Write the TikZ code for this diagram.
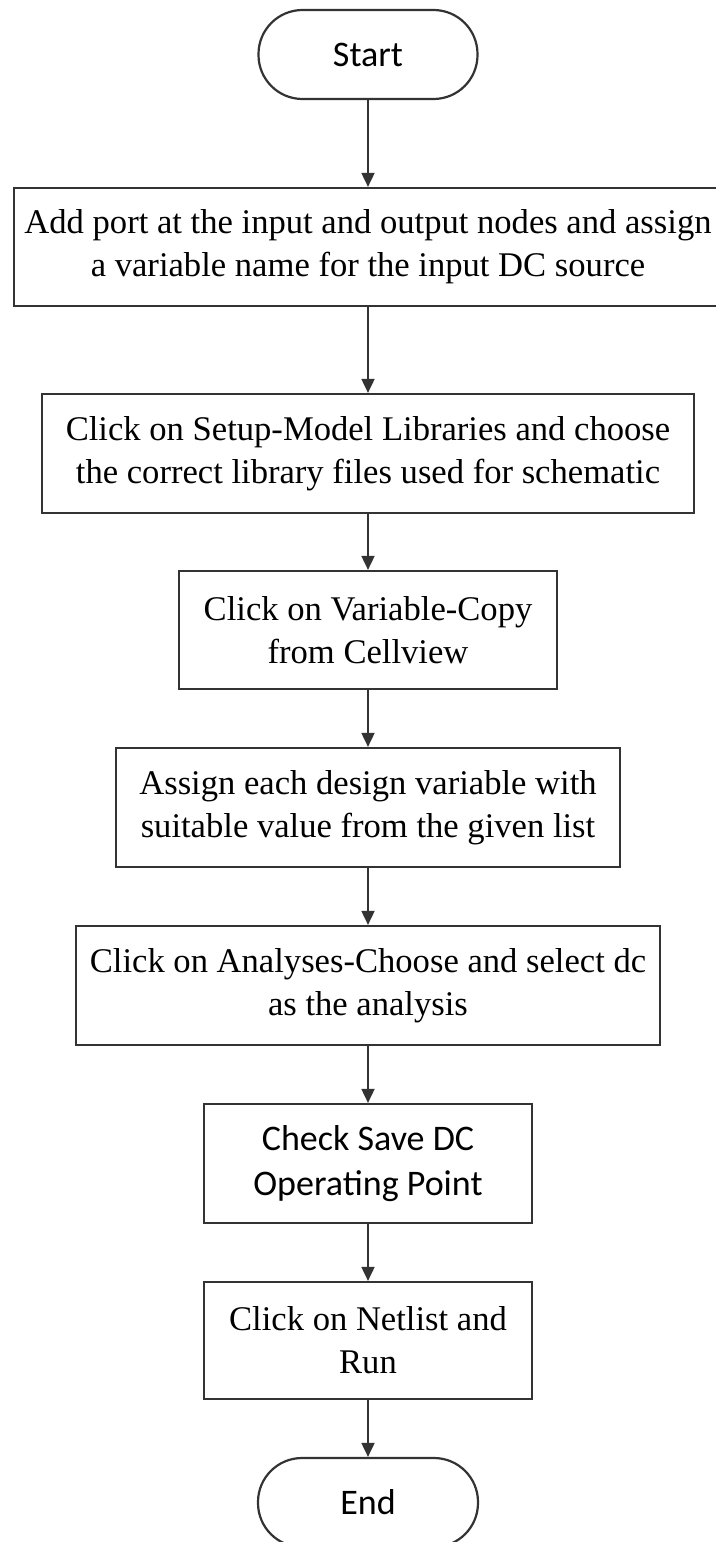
\documentclass[tikz,border=0pt]{standalone}
\usepackage{fontspec}
\setmainfont{Liberation Serif}
\newfontfamily\calfont{Carlito}
\usetikzlibrary{arrows.meta}
\begin{document}
\begin{tikzpicture}[x=0.5pt,y=-0.5pt,
  box/.style={draw=black!80, line width=1.1pt, fill=white, align=center, inner sep=0pt,
    font=\fontsize{17.3pt}{21.5pt}\selectfont},
  term/.style={box, rounded corners=22pt, font=\calfont\fontsize{18pt}{22pt}\selectfont},
  flow/.style={draw=black!80, line width=0.9pt, -{Triangle[width=6.5pt,length=7pt]}}]
\useasboundingbox (0,0) rectangle (716,1542);
\node[term, minimum width=109.5pt, minimum height=44.5pt] (start) at (368,54.5) {Start};
\node[box, minimum width=354pt, minimum height=59pt] (b1) at (368,247)
  {Add port at the input and output nodes and assign\\a variable name for the input DC source};
\node[box, minimum width=326pt, minimum height=59.5pt] (b2) at (368,453.5)
  {Click on Setup-Model Libraries and choose\\the correct library files used for schematic};
\node[box, minimum width=189pt, minimum height=59pt] (b3) at (368,630)
  {Click on Variable-Copy\\from Cellview};
\node[box, minimum width=252pt, minimum height=59.5pt] (b4) at (368,807.5)
  {Assign each design variable with\\suitable value from the given list};
\node[box, minimum width=292pt, minimum height=59.5pt] (b5) at (368,985.5)
  {Click on Analyses-Choose and select dc\\as the analysis};
\node[box, minimum width=164pt, minimum height=59.5pt, font=\calfont\fontsize{18pt}{22.5pt}\selectfont] (b6) at (368,1163.5)
  {Check Save DC\\Operating Point};
\node[box, minimum width=164pt, minimum height=58.5pt] (b7) at (368,1340.5)
  {Click on Netlist and\\Run};
\node[term, minimum width=110pt, minimum height=44.5pt] (end) at (368,1502.5) {End};
\draw[flow] (start) -- (b1);
\draw[flow] (b1) -- (b2);
\draw[flow] (b2) -- (b3);
\draw[flow] (b3) -- (b4);
\draw[flow] (b4) -- (b5);
\draw[flow] (b5) -- (b6);
\draw[flow] (b6) -- (b7);
\draw[flow] (b7) -- (end);
\end{tikzpicture}
\end{document}
